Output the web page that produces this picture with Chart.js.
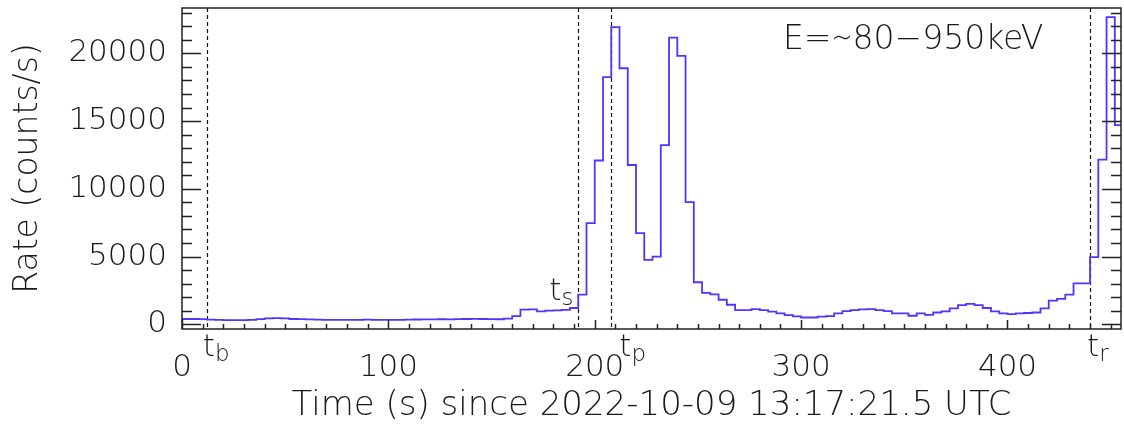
<!DOCTYPE html>
<html>
<head>
<meta charset="utf-8">
<script src="https://cdn.jsdelivr.net/npm/chart.js@4/dist/chart.umd.min.js"></script>
<style>
  html, body { margin: 0; padding: 0; background: #fff; }
  #wrap { width: 1124px; height: 427px; }
</style>
</head>
<body>
<div id="wrap"><canvas id="lc"></canvas></div>
<script>
// light curve, 4 s bins from t = 0
const binStart = 0;
const binWidth = 4;
const rate = [
  390, 390, 380, 340, 330, 310, 300, 310, 320, 380,      // 0-40
  440, 460, 440, 390, 380, 360, 340, 330, 320, 330,      // 40-80
  320, 330, 340, 320, 330, 320, 330, 340, 350, 360,      // 80-120
  360, 370, 360, 380, 390, 400, 390, 380, 370, 420,      // 120-160
  600, 1080, 1100, 950, 1000, 1030, 1060, 1200, 2190, 7470,   // 160-200
  12090, 18240, 21940, 18900, 11760, 6730, 4750, 5000, 13220, 21170, // 200-240
  19810, 9020, 3100, 2310, 2210, 1810, 1440, 1050, 1050, 1120,       // 240-280
  1050, 930, 800, 680, 580, 500, 500, 560, 600, 800,     // 280-320
  970, 1050, 1100, 1120, 1050, 970, 800, 800, 630, 800,  // 320-360
  700, 870, 950, 1170, 1420, 1500, 1420, 1200, 950, 800, // 360-400
  750, 800, 830, 870, 1170, 1740, 1870, 2190, 3020, 3020, // 400-440
  4950, 12160, 22680, 14700                               // 440-456
];
const xTicks = [0, 100, 200, 300, 400];
const yTicks = [0, 5000, 10000, 15000, 20000];
const markTimes = [12, 192, 208, 440];
const markNames = ['b', 's', 'p', 'r'];
const energyLabel = 'E=\u223C80\u2212950keV';

// label offsets for the t_x markers (relative to the dashed line)
const markDx = [-4, -29, 8, -3];
const markBase = [356, 300, 356, 356];

const FONT = '"DejaVu Sans", sans-serif';
const WEIGHT = 200;
const TXT = '#1a1a1a';

const points = rate.map((v, i) => ({ x: binStart + i * binWidth, y: v }));
points.push({ x: binStart + rate.length * binWidth, y: rate[rate.length - 1] });

const framePlugin = {
  id: 'frame',
  beforeDatasetsDraw(chart) {
    const { ctx, chartArea: a, scales: { x } } = chart;
    ctx.save();
    ctx.strokeStyle = '#111';
    ctx.lineWidth = 1.2;
    ctx.setLineDash([4, 3]);
    markTimes.forEach(t => {
      const px = Math.round(x.getPixelForValue(t)) + 0.5;
      ctx.beginPath();
      ctx.moveTo(px, a.top);
      ctx.lineTo(px, a.bottom);
      ctx.stroke();
    });
    ctx.restore();
  },
  afterDatasetsDraw(chart) {
    const { ctx, chartArea: a, scales: { x, y } } = chart;
    ctx.save();
    ctx.strokeStyle = '#222';
    ctx.lineWidth = 1.5;
    ctx.strokeRect(a.left, a.top, a.right - a.left, a.bottom - a.top);

    // inward ticks
    for (let v = Math.ceil(y.min / 1000) * 1000; v <= y.max; v += 1000) {
      const py = Math.round(y.getPixelForValue(v)) + 0.5;
      const len = v % 5000 === 0 ? 19 : 10;
      ctx.beginPath();
      ctx.moveTo(a.left, py); ctx.lineTo(a.left + len, py);
      ctx.moveTo(a.right, py); ctx.lineTo(a.right - len, py);
      ctx.stroke();
    }
    for (let v = Math.ceil(x.min / 10) * 10; v <= x.max; v += 10) {
      const px = Math.round(x.getPixelForValue(v)) + 0.5;
      const len = v % 100 === 0 ? 9 : 5;
      ctx.beginPath();
      ctx.moveTo(px, a.bottom); ctx.lineTo(px, a.bottom - len);
      ctx.stroke();
    }

    // t markers
    ctx.fillStyle = TXT;
    ctx.textBaseline = 'alphabetic';
    ctx.textAlign = 'left';
    markTimes.forEach((t, i) => {
      const px = x.getPixelForValue(t) + markDx[i];
      ctx.font = WEIGHT + ' 31px ' + FONT;
      ctx.fillText('t', px, markBase[i]);
      const w = ctx.measureText('t').width;
      ctx.font = WEIGHT + ' 23px ' + FONT;
      ctx.fillText(markNames[i], px + w, markBase[i] + 5);
    });

    // energy band
    ctx.font = WEIGHT + ' 33px ' + FONT;
    ctx.fillText(energyLabel, 783, 49);
    ctx.restore();
  }
};

new Chart(document.getElementById('lc'), {
  type: 'line',
  data: {
    datasets: [{
      label: 'Rate',
      data: points,
      stepped: true,
      borderColor: '#5234ff',
      borderWidth: 1.8,
      pointRadius: 0,
      fill: false
    }]
  },
  options: {
    responsive: true,
    maintainAspectRatio: false,
    animation: false,
    layout: { padding: { top: 8, right: 3, left: 0, bottom: 0 } },
    plugins: { legend: { display: false }, tooltip: { enabled: false } },
    scales: {
      x: {
        type: 'linear',
        min: 0,
        max: 455,
        afterFit: s => { s.height = 98; s.paddingLeft = 0; s.paddingRight = 0; },
        afterBuildTicks: s => { s.ticks = xTicks.map(v => ({ value: v })); },
        grid: { display: false, drawTicks: false },
        border: { display: false },
        ticks: { padding: 20, maxRotation: 0, color: TXT, callback: v => String(v),
                 font: { family: FONT, size: 31, weight: WEIGHT } },
        title: {
          display: true,
          text: 'Time (s) since 2022-10-09 13:17:21.5 UTC',
          color: TXT,
          font: { family: FONT, size: 34, weight: WEIGHT },
          padding: { top: 0, bottom: 0 }
        }
      },
      y: {
        min: -350,
        max: 23350,
        afterFit: s => { s.width = 182; s.paddingTop = 0; s.paddingBottom = 0; },
        afterBuildTicks: s => { s.ticks = yTicks.map(v => ({ value: v })); },
        grid: { display: false, drawTicks: false },
        border: { display: false },
        ticks: { padding: 15, color: TXT, callback: v => String(v),
                 font: { family: FONT, size: 31, weight: WEIGHT } },
        title: {
          display: true,
          text: 'Rate (counts/s)',
          color: TXT,
          font: { family: FONT, size: 33, weight: WEIGHT },
          padding: { top: 9, bottom: 0 }
        }
      }
    }
  },
  plugins: [framePlugin]
});
</script>
</body>
</html>
